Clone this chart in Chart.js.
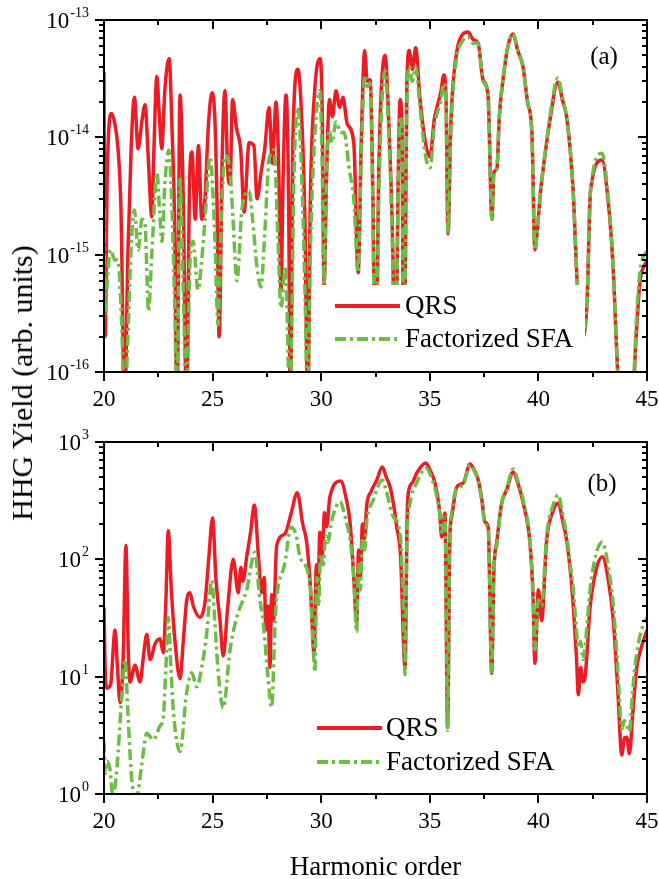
<!DOCTYPE html>
<html lang="en">
<head>
<meta charset="UTF-8">
<title>HHG yield</title>
<script src="https://cdn.jsdelivr.net/npm/chart.js@4.4.1/dist/chart.umd.min.js"></script>
<style>
	body { margin: 0; background: #fff; }
	#wrap { position: relative; width: 659px; height: 879px; overflow: hidden; }
	.panel { position: absolute; left: 0; }
	#ytitle {
		position: absolute; left: 22px; top: 383px;
		transform: translate(-50%, -50%) rotate(-90deg);
		font-family: "Liberation Serif", serif; font-size: 30px; white-space: nowrap; color: #000;
	}
</style>
</head>
<body>
<div id="wrap">
	<canvas id="chartA" class="panel" style="top:0" width="659" height="420"></canvas>
	<canvas id="chartB" class="panel" style="top:420px" width="659" height="459"></canvas>
	<div id="ytitle">HHG Yield (arb. units)</div>
</div>
<script>
// ---- data ----
var xTicks = [20, 25, 30, 35, 40, 45];
var yTicksA = [1e-16, 1e-15, 1e-14, 1e-13];
var yTicksB = [1, 10, 100, 1000];

// panel (a) QRS
var hA_qrs = [20.00,20.05,20.15,20.35,20.5,20.65,20.78,20.95,21.1,21.25,
	21.4,21.57,21.75,21.89,22.05,22.2,22.3,22.43,22.55,22.66,
	22.8,23.0,23.13,23.25,23.36,23.5,23.65,23.8,23.95,24.05,
	24.2,24.35,24.5,24.65,24.8,24.97,25.1,25.2,25.3,25.45,
	25.57,25.7,25.8,25.92,26.1,26.3,26.45,26.68,26.9,27.05,
	27.23,27.4,27.6,27.75,27.92,28.05,28.15,28.25,28.38,28.5,
	28.58,28.7,28.93,29.1,29.25,29.38,29.5,29.7,29.95,30.05,
	30.13,30.25,30.38,30.52,30.68,30.85,31.0,31.2,31.5,31.7,
	31.85,32.0,32.12,32.25,32.38,32.5,32.65,32.94,33.1,33.3,
	33.4,33.55,33.63,33.72,33.8,33.95,34.05,34.2,34.35,34.55,
	34.8,35.01,35.2,35.33,35.5,35.65,35.75,35.84,35.95,36.02,
	36.25,36.48,36.76,37.0,37.22,37.45,37.68,37.86,37.95,38.09,
	38.2,38.37,38.6,38.83,39.05,39.29,39.5,39.7,39.84,39.98,
	40.1,40.21,40.53,40.9,41.1,41.32,41.6,41.78,41.85,42.05,
	42.24,42.4,42.93,43.2,43.43,43.65,43.76,44.31,44.5,44.67,
	45.0];
var yA_qrs = [3.6e-14,2e-16,5e-15,1.6e-14,1.3e-14,7.8e-15,2.5e-15,5e-17,1e-15,8e-15,
	2.2e-14,8e-15,1.4e-14,1.9e-14,6e-15,2.1e-15,8e-15,3.3e-14,1.5e-14,8e-15,
	2.5e-14,4.7e-14,1.2e-14,2e-15,5e-17,2.3e-14,3e-15,5e-17,5e-15,7.5e-15,
	2e-15,8.5e-15,2e-15,3e-15,1.2e-14,2.4e-14,1.5e-14,3e-15,2e-16,8e-15,
	2.5e-14,5e-15,4e-15,2.1e-14,1.2e-14,7.6e-15,2.3e-15,9e-15,8.5e-15,3e-15,
	5e-15,8e-15,1.8e-14,6e-15,2e-14,5e-15,5e-16,5e-15,2.3e-14,3e-15,
	5e-17,1e-14,3.8e-14,1.5e-14,2e-15,5e-17,3e-15,2.5e-14,4.7e-14,1.5e-14,
	5.5e-16,5e-15,2.1e-14,1.5e-14,2.5e-14,1.8e-14,2.2e-14,1.3e-14,9e-15,7e-16,
	1e-14,5.5e-14,3e-14,3.1e-14,3e-15,5e-17,5e-15,5e-14,1.5e-14,1e-15,
	5e-17,5e-15,2.1e-14,1.2e-14,5e-17,3e-14,5.5e-14,3.8e-14,5.8e-14,2.1e-14,
	9e-15,6.8e-15,1.4e-14,1.8e-14,2.4e-14,3.4e-14,2e-14,1.5e-15,1e-14,2.1e-14,
	5.5e-14,7.4e-14,7.9e-14,6.8e-14,6.4e-14,3.1e-14,2.3e-14,2e-15,5e-15,5.4e-15,
	1.5e-14,3.1e-14,6e-14,7.6e-14,5.5e-14,4e-14,2e-14,1.1e-14,1.1e-15,1.9e-15,
	3.5e-15,5.2e-15,1.4e-14,2.95e-14,2.1e-14,1.4e-14,3.5e-15,6e-16,4e-16,2e-16,
	4e-16,3.5e-15,6.4e-15,3e-15,8.5e-16,1e-16,5e-17,5e-17,2e-16,5.7e-16,
	9e-16];

// panel (a) factorized SFA
var hA_sfa = [20.00,20.05,20.15,20.3,20.5,20.64,20.8,20.95,21.1,21.25,
	21.4,21.57,21.75,21.89,22.05,22.2,22.44,22.55,22.67,22.8,
	22.99,23.13,23.25,23.36,23.5,23.65,23.8,23.95,24.1,24.33,
	24.5,24.65,24.88,25.1,25.25,25.4,25.57,25.8,25.94,26.12,
	26.35,26.68,26.84,27.04,27.23,27.4,27.6,27.83,28.0,28.15,
	28.35,28.56,28.75,28.93,29.1,29.25,29.38,29.5,29.7,29.94,
	30.05,30.13,30.25,30.36,30.5,30.68,30.9,31.05,31.3,31.5,
	31.7,31.85,32.02,32.12,32.25,32.38,32.5,32.65,32.94,33.1,
	33.3,33.4,33.55,33.63,33.72,33.8,33.95,34.05,34.2,34.35,
	34.55,34.8,35.01,35.2,35.33,35.5,35.65,35.75,35.84,35.95,
	36.02,36.25,36.48,36.76,37.0,37.22,37.45,37.68,37.86,37.95,
	38.09,38.2,38.37,38.6,38.83,39.05,39.29,39.5,39.7,39.84,
	39.98,40.1,40.21,40.53,40.9,41.1,41.32,41.6,41.78,41.85,
	42.05,42.24,42.4,42.93,43.2,43.43,43.65,43.76,44.31,44.5,
	44.67,45.0];
var yA_sfa = [2.4e-15,3e-16,6e-16,1.1e-15,9e-16,9e-16,3e-16,5e-17,2e-16,1.2e-15,
	2.4e-15,1.1e-15,2e-15,1.8e-15,3.3e-16,1e-15,5e-15,2.5e-15,1.3e-15,4e-15,
	7.8e-15,2.5e-15,4e-16,5e-17,4.4e-15,5e-16,5e-17,8e-16,1.3e-15,5e-16,
	9e-16,2e-15,6.8e-15,1.5e-15,2.5e-16,2e-15,7e-15,5.2e-15,2e-15,6e-16,
	2.4e-15,3.5e-15,2e-15,8e-16,5.3e-16,1.5e-15,6.5e-15,7.8e-15,1.5e-15,3.5e-16,
	8e-16,5e-17,5e-15,1.8e-14,5e-15,5e-16,5e-17,1e-15,1e-14,2.5e-14,
	5e-15,5.5e-16,5e-15,1.15e-14,9e-15,1.35e-14,1.1e-14,1.1e-14,5.2e-15,3e-15,
	7e-16,8e-15,3.4e-14,2.7e-14,2.9e-14,2.5e-15,5e-17,3e-15,3.7e-14,1.2e-14,
	8e-16,5e-17,4e-15,1.5e-14,1e-14,5e-17,2e-14,4e-14,3e-14,4e-14,
	1.8e-14,7e-15,5.5e-15,1.2e-14,1.6e-14,2e-14,2.9e-14,1.8e-14,1.5e-15,9e-15,
	1.8e-14,5e-14,6.5e-14,7.2e-14,6.3e-14,6.4e-14,3e-14,2.3e-14,2e-15,5e-15,
	5.4e-15,1.5e-14,3.1e-14,6e-14,7.6e-14,5.5e-14,4e-14,2e-14,1.1e-14,1.1e-15,
	1.9e-15,3.5e-15,5.2e-15,1.5e-14,3.2e-14,2.2e-14,1.4e-14,3.5e-15,6e-16,4e-16,
	2e-16,4e-16,3.5e-15,7.3e-15,3.3e-15,9e-16,1e-16,5e-17,5e-17,2.5e-16,
	7e-16,1.1e-15];

// panel (b) QRS
var hB_qrs = [20.00,20.05,20.12,20.3,20.51,20.62,20.74,20.88,21.01,21.12,
	21.2,21.43,21.66,21.8,21.97,22.12,22.35,22.58,22.73,22.85,
	22.96,23.1,23.27,23.5,23.65,23.81,23.96,24.11,24.42,24.65,
	24.82,25.0,25.15,25.34,25.49,25.7,25.95,26.18,26.3,26.4,
	26.57,26.75,26.92,27.12,27.26,27.38,27.45,27.55,27.64,27.72,
	27.8,27.95,28.33,28.6,28.9,29.15,29.33,29.5,29.67,29.78,
	29.85,29.94,30.05,30.15,30.25,30.4,30.9,31.15,31.33,31.5,
	31.63,31.72,31.8,31.9,32.0,32.09,32.3,32.56,32.81,33.0,
	33.17,33.35,33.48,33.65,33.86,33.95,34.01,34.2,34.4,34.82,
	35.0,35.24,35.45,35.55,35.7,35.82,35.92,36.01,36.24,36.54,
	36.85,37.0,37.23,37.4,37.54,37.69,37.85,37.95,38.08,38.31,
	38.54,38.84,39.05,39.3,39.61,39.75,39.84,40.0,40.15,40.38,
	40.65,40.92,41.1,41.3,41.5,41.61,41.75,41.84,41.95,42.05,
	42.15,42.38,42.65,42.94,43.2,43.45,43.65,43.84,43.96,44.07,
	44.19,44.35,44.53,44.75,45.0];
var yB_qrs = [39,12,8,8.5,25,12,6,14,132,16,
	9,12.5,9,14,23,14,19,21,16,45,
	175,55,20,9.6,20,45,52,40,32,43,
	100,225,70,30,15,40,100,52,85,65,
	105,170,290,100,52,70,25,40,12,50,
	30,130,165,240,370,200,140,60,16,90,
	50,170,110,250,190,340,465,330,205,70,
	29,120,70,200,150,280,380,475,612,500,
	413,280,188,110,12,200,367,450,545,662,
	580,447,260,155,248,3.7,150,230,413,447,
	650,600,474,320,208,188,10.7,80,138,302,
	390,555,450,302,138,50,13,55,30,146,
	250,302,220,146,70,39,15,7,12,9,
	10,39,80,105,70,30,8,2.15,3.0,3.05,
	2.2,5,12,18,25];

// panel (b) factorized SFA
var hB_sfa = [20.00,20.05,20.14,20.28,20.41,20.6,20.8,20.97,21.1,21.28,
	21.5,21.74,21.97,22.27,22.58,22.73,22.85,22.96,23.08,23.19,
	23.5,23.8,24.04,24.27,24.5,24.73,24.96,25.1,25.26,25.49,
	25.8,26.11,26.57,26.95,27.15,27.33,27.55,27.72,27.88,27.95,
	28.33,28.6,28.85,29.02,29.48,29.6,29.71,29.8,29.88,29.97,
	30.1,30.2,30.3,30.5,30.87,31.1,31.33,31.5,31.63,31.72,
	31.8,31.9,32.0,32.09,32.4,32.81,33.0,33.32,33.63,33.8,
	33.86,33.95,34.09,34.4,34.82,35.0,35.24,35.45,35.55,35.7,
	35.82,35.92,36.01,36.24,36.54,36.85,37.0,37.23,37.4,37.54,
	37.69,37.85,37.95,38.08,38.31,38.54,38.84,39.05,39.3,39.61,
	39.75,39.84,40.0,40.15,40.38,40.65,40.92,41.1,41.3,41.5,
	41.61,41.75,41.84,41.95,42.05,42.15,42.38,42.65,42.94,43.2,
	43.45,43.65,43.84,43.96,44.07,44.19,44.35,44.53,44.75,45.0];
var yB_sfa = [2.8,1.5,1.9,1.6,0.95,1.7,6,14,5,1.3,
	0.95,1.8,3.3,2.9,3.8,4.5,12,32,12,5.2,
	2.3,7.2,10.8,8.2,12,23.6,66,30,10.8,5.4,
	16.8,32,55,115,50,29,10,5.5,30,47,
	93,188,160,105,63,25,11,70,40,110,
	90,160,140,220,310,230,146,70,24,90,
	55,150,120,204,320,474,380,230,167,30,
	10.4,150,302,450,600,540,400,250,170,230,
	3.5,140,250,400,430,640,590,460,310,200,
	180,11,80,130,300,400,590,470,320,145,
	55,17,45,40,160,280,355,250,160,80,
	55,25,17.7,20,14,18,55,110,140,90,
	40,12,3.6,4.2,3.8,3.4,8,16,25,32];

var RED = '#ed1c24';
var GREEN = '#6cbd45';
var DASH = [11, 4, 3, 4];
var SERIF = '"Liberation Serif", "Times New Roman", serif';

function pts(xs, ys) {
	return xs.map(function (x, i) { return { x: x, y: ys[i] }; });
}

// frame, ticks, labels and legend drawn on top of the curves
var framePlugin = {
	id: 'frame',
	afterDatasetsDraw: function (chart, args, o) {
		var ctx = chart.ctx, a = chart.chartArea;
		var xs = chart.scales.x, ys = chart.scales.y;
		ctx.save();

		// legend
		var lg = o.legend;
		if (lg.box) {
			ctx.fillStyle = '#fff';
			ctx.fillRect(lg.box[0], lg.box[1], lg.box[2], lg.box[3]);
		}
		ctx.lineWidth = 4;
		ctx.strokeStyle = RED;
		ctx.setLineDash([]);
		ctx.beginPath(); ctx.moveTo(lg.x1, lg.y1); ctx.lineTo(lg.x2, lg.y1); ctx.stroke();
		ctx.strokeStyle = GREEN;
		ctx.setLineDash(DASH);
		ctx.beginPath(); ctx.moveTo(lg.x1, lg.y2); ctx.lineTo(lg.x2, lg.y2); ctx.stroke();
		ctx.setLineDash([]);
		ctx.fillStyle = '#000';
		ctx.font = '27px ' + SERIF;
		ctx.textAlign = 'left';
		ctx.textBaseline = 'middle';
		ctx.fillText('QRS', lg.tx, lg.y1 + 1);
		ctx.fillText('Factorized SFA', lg.tx, lg.y2 + 1);

		// frame
		ctx.strokeStyle = '#000';
		ctx.lineWidth = 2;
		ctx.strokeRect(a.left, a.top, a.right - a.left, a.bottom - a.top);

		// x ticks: out at bottom, in at top
		for (var v = xs.min; v <= xs.max + 0.01; v += 2.5) {
			var px = Math.round(xs.getPixelForValue(v));
			var len = (v % 5 === 0) ? 9 : 5;
			ctx.beginPath();
			ctx.moveTo(px, a.bottom); ctx.lineTo(px, a.bottom + len);
			ctx.moveTo(px, a.top); ctx.lineTo(px, a.top + len);
			ctx.stroke();
		}
		// y ticks (log): out at left, in at right
		var d0 = Math.round(Math.log10(ys.min)), d1 = Math.round(Math.log10(ys.max));
		for (var d = d0; d <= d1; d++) {
			for (var k = 1; k <= 9; k++) {
				var val = k * Math.pow(10, d);
				if (val > ys.max * 1.0001) break;
				var py = Math.round(ys.getPixelForValue(val));
				var ln = k === 1 ? 9 : 5;
				ctx.beginPath();
				ctx.moveTo(a.left - ln, py); ctx.lineTo(a.left, py);
				ctx.moveTo(a.right - ln, py); ctx.lineTo(a.right, py);
				ctx.stroke();
			}
		}

		// tick labels
		ctx.fillStyle = '#000';
		ctx.font = '23px ' + SERIF;
		ctx.textAlign = 'center';
		ctx.textBaseline = 'middle';
		xTicks.forEach(function (t) {
			ctx.fillText(String(t), xs.getPixelForValue(t), a.bottom + 28);
		});
		o.yTicks.forEach(function (t) {
			var py = ys.getPixelForValue(t);
			var ex = String(Math.round(Math.log10(t)));
			ctx.font = '14px ' + SERIF;
			var ew = ctx.measureText(ex).width;
			ctx.textAlign = 'left';
			ctx.textBaseline = 'alphabetic';
			ctx.fillText(ex, 89 - ew, py - 3);
			ctx.font = '23px ' + SERIF;
			ctx.textAlign = 'right';
			ctx.textBaseline = 'middle';
			ctx.fillText('10', 88 - ew, py + 2);
		});

		// panel label
		ctx.font = '25px ' + SERIF;
		ctx.textAlign = 'center';
		ctx.textBaseline = 'middle';
		ctx.fillText(o.tag, o.tagX, o.tagY);

		if (o.xTitle) {
			ctx.font = '27px ' + SERIF;
			ctx.textBaseline = 'alphabetic';
			ctx.fillText(o.xTitle, (a.left + a.right) / 2, o.xTitleY);
		}
		ctx.restore();
	}
};

function makePanel(id, qx, qy, sx, sy, ymin, ymax, pad, frameOpts) {
	return new Chart(document.getElementById(id).getContext('2d'), {
		type: 'line',
		data: {
			datasets: [
				{
					label: 'Factorized SFA',
					data: pts(sx, sy),
					borderColor: GREEN,
					borderWidth: 3.5,
					borderDash: DASH,
					pointRadius: 0,
					cubicInterpolationMode: 'monotone',
					clip: 0
				},
				{
					label: 'QRS',
					data: pts(qx, qy),
					borderColor: RED,
					borderWidth: 3.5,
					pointRadius: 0,
					cubicInterpolationMode: 'monotone',
					clip: 0
				}
			]
		},
		options: {
			responsive: false,
			animation: false,
			layout: { padding: pad },
			plugins: {
				legend: { display: false },
				tooltip: { enabled: false },
				frame: frameOpts
			},
			scales: {
				x: { type: 'linear', min: 20, max: 45, display: false },
				y: { type: 'logarithmic', min: ymin, max: ymax, display: false }
			}
		},
		plugins: [framePlugin]
	});
}

makePanel('chartA', hA_qrs, yA_qrs, hA_sfa, yA_sfa, 1e-16, 1e-13,
	{ left: 104, right: 12, top: 20, bottom: 48 },
	{
		yTicks: yTicksA, tag: '(a)', tagX: 604, tagY: 57,
		legend: { box: [322, 285, 263, 86], x1: 335, x2: 400, y1: 306, y2: 339, tx: 405 }
	});

makePanel('chartB', hB_qrs, yB_qrs, hB_sfa, yB_sfa, 1, 1000,
	{ left: 104, right: 12, top: 22, bottom: 85 },
	{
		yTicks: yTicksB, tag: '(b)', tagX: 602, tagY: 64,
		legend: { x1: 317, x2: 382, y1: 308, y2: 342, tx: 386 },
		xTitle: 'Harmonic order', xTitleY: 455
	});
</script>
</body>
</html>
